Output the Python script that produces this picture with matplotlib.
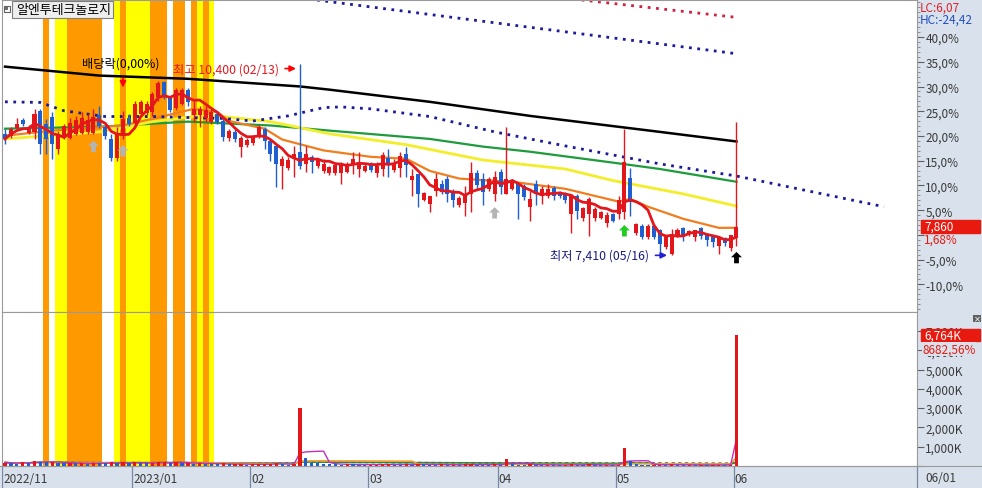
import numpy as np
import pandas as pd
import matplotlib.pyplot as plt
from matplotlib.patches import Rectangle
from matplotlib.path import Path

plt.rcParams['font.family'] = ['Noto Sans CJK KR', 'DejaVu Sans']

# -----------------------------------
# Data: daily candles 2022-11-30 .. 2023-06-01 (index 0..124)
# -----------------------------------
opens = [9310, 9280, 9400, 9520, 9320, 9340, 9660, 9470, 9580, 9080,
         9280, 9250, 9310, 9330, 9340, 9330, 9600, 9420, 9230, 8930,
         9300, 9560, 9480, 9620, 9640, 9650, 9880, 10120, 9870, 9720,
         9780, 10000, 9600, 9600, 9550, 9500, 9620, 9510, 9250, 9340,
         9100, 9140, 9170, 9270, 9390, 9190, 9120, 8800, 8770, 8920,
         9030, 8840, 8950, 8800, 8730, 8690, 8700, 8700, 8720, 8820,
         8760, 8730, 8830, 8700, 8760, 8930, 8750, 8780, 8990, 8580,
         8680, 8270, 8220, 8420, 8530, 8600, 8400, 8200, 8230, 8370,
         8700, 8600, 8450, 8370, 8710, 8370, 8450, 8530, 8490, 8170,
         8530, 8340, 8340, 8460, 8390, 8350, 8060, 8340, 8000, 8050,
         8000, 8000, 7910, 8050, 8060, 8090, 8620, 7760, 7870, 7700,
         7870, 7800, 7540, 7430, 7700, 7830, 7740, 7700, 7830, 7740,
         7700, 7560, 7680, 7530, 7700]
highs = [9390, 9420, 9550, 9560, 9440, 9700, 9700, 9540, 9650, 9350,
         9470, 9550, 9590, 9650, 9620, 9700, 9750, 9450, 9300, 9420,
         9660, 9620, 9830, 9840, 9820, 9970, 10130, 10140, 9890, 10020,
         10030, 10030, 9820, 9750, 9740, 9700, 9650, 9550, 9390, 9380,
         9280, 9250, 9290, 9450, 9420, 9230, 9130, 8970, 8950, 9120,
         10400, 9120, 8980, 8920, 8920, 8810, 8840, 8870, 8870, 9030,
         9030, 8840, 8870, 8870, 9030, 9080, 8920, 9030, 9100, 8760,
         8680, 8400, 8340, 8700, 8580, 8650, 8450, 8330, 8500, 8870,
         8740, 8690, 8640, 8730, 8760, 9420, 8600, 8560, 8520, 8420,
         8580, 8500, 8530, 8500, 8420, 8400, 8340, 8370, 8170, 8320,
         8170, 8110, 8090, 8070, 8340, 9390, 8780, 7920, 7900, 7900,
         7900, 7820, 7710, 7820, 7830, 7860, 7800, 7810, 7860, 7760,
         7710, 7690, 7690, 7720, 9500]
lows = [9150, 9250, 9370, 9430, 9300, 9230, 9000, 9000, 8920, 8990,
        9230, 9230, 9290, 9300, 9310, 9300, 9400, 9230, 8890, 8890,
        9230, 9430, 9450, 9590, 9600, 9590, 9830, 9850, 9650, 9680,
        9760, 9750, 9500, 9420, 9500, 9470, 9470, 9200, 9200, 9180,
        8950, 9100, 9140, 9250, 9080, 8890, 8480, 8450, 8740, 8640,
        8760, 8720, 8690, 8780, 8690, 8670, 8670, 8530, 8700, 8680,
        8640, 8710, 8720, 8640, 8650, 8640, 8720, 8640, 8640, 8340,
        8170, 8260, 8090, 8330, 8370, 8250, 8170, 8170, 8020, 8090,
        8450, 8200, 8420, 8260, 8370, 8370, 8430, 7980, 8270, 7950,
        8200, 8220, 8300, 8270, 8300, 8230, 7760, 7980, 7940, 7720,
        7950, 7980, 7850, 7930, 7980, 7980, 8020, 7730, 7670, 7670,
        7670, 7460, 7510, 7410, 7690, 7640, 7720, 7640, 7670, 7560,
        7540, 7430, 7560, 7480, 7560]
closes = [9230, 9380, 9470, 9470, 9420, 9620, 9150, 9230, 9150, 9310,
          9430, 9480, 9520, 9560, 9520, 9580, 9430, 9280, 8930, 9300,
          9540, 9460, 9780, 9800, 9780, 9940, 10100, 9900, 9680, 10000,
          9990, 9800, 9700, 9700, 9680, 9650, 9490, 9260, 9360, 9230,
          9250, 9220, 9260, 9420, 9200, 9000, 8840, 8920, 8900, 9000,
          8800, 9000, 8870, 8900, 8840, 8790, 8820, 8820, 8810, 8920,
          8870, 8800, 8750, 8800, 8980, 8830, 8860, 8960, 8830, 8650,
          8370, 8380, 8330, 8610, 8400, 8370, 8280, 8310, 8370, 8690,
          8510, 8400, 8600, 8640, 8480, 8610, 8570, 8370, 8320, 8290,
          8370, 8440, 8450, 8340, 8330, 8280, 8340, 8100, 8150, 8290,
          8140, 8080, 8040, 7950, 8280, 8870, 8240, 7900, 7700, 7870,
          7700, 7590, 7700, 7750, 7810, 7720, 7790, 7800, 7720, 7650,
          7620, 7680, 7600, 7730, 7860]
# volume in thousand shares
volumes = [180, 150, 120, 210, 160, 250, 230, 190, 210, 170, 140, 160, 130, 150, 120, 180, 140, 130, 200, 150, 220, 130,
           190, 170, 140, 160, 210, 230, 150, 190, 160, 170, 120, 140, 110, 100, 90, 130, 80, 90, 110, 70,
           80, 90, 100, 120, 150, 90, 70, 80, 2990, 420, 180, 140, 110, 90, 80, 70, 90, 80, 70, 60,
           60, 70, 80, 90, 70, 60, 80, 70, 110, 90, 70, 60, 80, 60, 70, 50, 80, 120, 70, 60, 50, 80,
           70, 360, 90, 70, 60, 80, 60, 50, 60, 50, 40, 50, 90, 70, 60, 80, 50, 40, 50, 40,
           60, 910, 240, 90, 60, 50, 60, 70, 60, 90, 50, 40, 50, 40, 60, 40, 50, 60, 40, 77, 6764]

# moving averages (bar index, price)
ma20_x = [0, 8, 20, 25, 32, 36, 38, 44, 47, 54, 62, 68, 72, 77, 82, 86, 95, 104, 106, 109, 115, 121, 124]
ma20_v = [9280, 9360, 9440, 9545, 9700, 9650, 9510, 9390, 9220, 9050, 8950, 8920, 8730, 8610, 8580,
          8560, 8450, 8250, 8290, 8170, 7980, 7840, 7840]
ma60_x = [0, 16, 25, 32, 37, 45, 55, 68, 81, 95, 103, 115, 124]
ma60_v = [9230, 9340, 9500, 9580, 9580, 9500, 9310, 9140, 8900, 8760, 8580, 8370, 8180]
ma120_x = [0, 16, 31, 45, 55, 72, 81, 89, 103, 111, 124]
ma120_v = [9390, 9420, 9500, 9440, 9360, 9230, 9110, 9030, 8860, 8760, 8560]
ma240_x = [0, 16, 31, 50, 55, 72, 89, 111, 124]
ma240_v = [10360, 10220, 10170, 10050, 10000, 9810, 9590, 9340, 9190]
env_lo_x = [0, 6, 10, 17, 25, 37, 42, 48, 54, 57, 62, 72, 83, 95, 111, 124, 149]
env_lo_v = [9810, 9800, 9670, 9580, 9580, 9550, 9510, 9590, 9720, 9730, 9700, 9580, 9340, 9120, 8840, 8650, 8170]
env_hi_x = [45, 85, 124]
env_hi_v = [11494, 11022, 10562]
env_top_x = [90, 124]
env_top_v = [11483, 11130]

# highlighted periods (first bar, last bar)
orange_spans = [(7, 7), (11, 16), (20, 20), (25, 27), (29, 30), (32, 32), (34, 34)]
yellow_spans = [(9, 10), (19, 19), (21, 24), (33, 33), (35, 35)]

month_labels = ['2022/11', '2023/01', '02', '03', '04', '05', '06']
month_start = [0, 22, 42, 62, 84, 104, 124]

signal_bars = [15, 20, 83, 105, 124]
signal_colors = ['#b4b4b4', '#b4b4b4', '#b4b4b4', '#22cc22', '#000000']

# -----------------------------------
# Layout helpers
# -----------------------------------
W, H = 982, 489
STRIP = '#d9e1ec'
EDGE = '#9a9a9a'
RED = '#e3161b'
BLUE = '#1f5fcf'
LBL = '#3a3a3a'
FS = 8.5


def box(x0, y0, x1, y1):
    return [x0 / W, 1 - y1 / H, (x1 - x0) / W, (y1 - y0) / H]


fig = plt.figure(figsize=(W / 100, H / 100), dpi=100)
fig.patch.set_facecolor('white')

bg = fig.add_axes(box(0, 0, W, H), zorder=-10)
bg.set_xlim(0, W)
bg.set_ylim(H, 0)
bg.axis('off')
bg.add_patch(Rectangle((917, 0), 65, 489, color=STRIP))
bg.add_patch(Rectangle((0, 467), 917, 22, color=STRIP))

x = np.arange(len(closes))
o = np.array(opens)
c = np.array(closes)
cols = np.where(c >= o, RED, BLUE)
v = np.array(volumes)
vcols = np.where(np.r_[True, v[1:] >= v[:-1]], RED, BLUE)
XL = (-0.51, 154.6)

# -----------------------------------
# Price panel
# -----------------------------------
ax = fig.add_axes(box(2, 1, 917, 313))
base = closes[-2]
PCT_LO, PCT_HI = -15.6, 47.5
ax.set_xlim(*XL)
ax.set_ylim(base * (1 + PCT_LO / 100), base * (1 + PCT_HI / 100))

for a, b in orange_spans:
    ax.axvspan(a - 0.5, b + 0.5, color='#ff9900', lw=0, zorder=0)
for a, b in yellow_spans:
    ax.axvspan(a - 0.5, b + 0.5, color='#ffff00', lw=0, zorder=0)

ax.plot(ma240_x, ma240_v, color='black', lw=1.8, zorder=2)
ax.plot(ma120_x, ma120_v, color='#1e9b3c', lw=1.6, zorder=2)
ax.plot(ma60_x, ma60_v, color='#f2ee2a', lw=2.0, zorder=2)
ax.plot(ma20_x, ma20_v, color='#f07d1e', lw=1.6, zorder=2)
ax.plot(env_lo_x, env_lo_v, color='#1a1a9a', lw=2, ls=(0, (1, 2)), zorder=2)
ax.plot(env_hi_x, env_hi_v, color='#1a1a9a', lw=2, ls=(0, (1, 2)), zorder=2)
ax.plot(env_top_x, env_top_v, color='#d02040', lw=2, ls=(0, (1, 2)), zorder=2)

ax.vlines(x, lows, highs, color=cols, lw=1, zorder=3)
body = np.maximum(np.abs(c - o), 15)
ax.bar(x, body, bottom=np.minimum(o, c), width=0.68, color=cols, lw=0, zorder=3.1)

ma5 = pd.Series(closes).rolling(5, min_periods=1).mean()
ax.plot(x, ma5, color=RED, lw=2, zorder=4)

# signal arrows
arrow = Path([(0, 1), (-0.9, 0.1), (-0.4, 0.1), (-0.4, -0.9), (0.4, -0.9), (0.4, 0.1), (0.9, 0.1), (0, 1)],
             [Path.MOVETO] + [Path.LINETO] * 6 + [Path.CLOSEPOLY])
ax.scatter(signal_bars, [lows[i] - 190 for i in signal_bars], marker=arrow, s=75,
           c=signal_colors, lw=0, zorder=5)

# annotations
ihi = int(np.argmax(highs))
ilo = int(np.argmin(lows))
ax.text(19.6, 10420, '배당락(0,00%)', ha='center', va='center', fontsize=FS + 0.3, color='black', zorder=6)
ax.annotate('', xy=(20, 9990), xytext=(20, 10220),
            arrowprops=dict(arrowstyle='-|>', color='red', lw=1.2, mutation_scale=9), zorder=6)
ax.text(ihi - 3.6, highs[ihi] - 70, f'최고 {highs[ihi]:,} (02/13)', ha='right', va='center',
        fontsize=FS + 0.3, color=RED, zorder=6)
ax.annotate('', xy=(ihi - 0.2, highs[ihi] - 70), xytext=(ihi - 3.0, highs[ihi] - 70),
            arrowprops=dict(arrowstyle='-|>', color='red', lw=1.2, mutation_scale=9), zorder=6)
ax.text(ilo - 3.8, lows[ilo], f'최저 {lows[ilo]:,} (05/16)', ha='right', va='center',
        fontsize=FS + 0.3, color='#1a1a80', zorder=6)
ax.annotate('', xy=(ilo - 0.3, lows[ilo]), xytext=(ilo - 3.2, lows[ilo]),
            arrowprops=dict(arrowstyle='-|>', color='#2020d0', lw=1.2, mutation_scale=9), zorder=6)

# right percentage axis
ax.yaxis.tick_right()
pcts = [-10, -5, 0, 5, 10, 15, 20, 25, 30, 35, 40]
ax.set_yticks([base * (1 + p / 100) for p in pcts],
              ['' if p == 0 else f'{p:.1f}%'.replace('.', ',') for p in pcts])
ax.set_yticks([base * (1 + p / 100) for p in range(-15, 48)], minor=True)
ax.tick_params(axis='y', which='major', length=5, width=0.8, color='#606060',
               labelsize=FS, labelcolor=LBL, pad=1)
ax.tick_params(axis='y', which='minor', length=2.5, width=0.6, color='#808080')
ax.set_xticks([])
for s in ax.spines.values():
    s.set_color(EDGE)

# last price box
yr = ax.get_ylim()
bh = (yr[1] - yr[0]) * 13 / 312
ax.add_patch(Rectangle((1.0044, closes[-1] - bh / 2), 0.0645, bh, transform=ax.get_yaxis_transform(),
                       color='#e8190f', clip_on=False, zorder=7))
ax.text(1.008, closes[-1], f'{closes[-1]:,}', transform=ax.get_yaxis_transform(),
        color='white', fontsize=FS, va='center', ha='left', zorder=8, clip_on=False)
chg = (closes[-1] / base - 1) * 100
ax.text(1.008, closes[-1] - bh * 1.0, f'{chg:.2f}%'.replace('.', ','), transform=ax.get_yaxis_transform(),
        color='#e8190f', fontsize=FS, va='center', ha='left', zorder=8, clip_on=False)

# -----------------------------------
# Volume panel
# -----------------------------------
av = fig.add_axes(box(2, 313, 917, 467))
av.set_xlim(*XL)
av.set_ylim(0, 7980)
for a, b in orange_spans:
    av.axvspan(a - 0.5, b + 0.5, color='#ff9900', lw=0, zorder=0)
for a, b in yellow_spans:
    av.axvspan(a - 0.5, b + 0.5, color='#ffff00', lw=0, zorder=0)
av.bar(x, volumes, width=0.55, color=vcols, lw=0, zorder=3)
vs = pd.Series(volumes)
av.plot(x, vs.rolling(120, min_periods=1).mean(), color='#203070', lw=1.2, ls=(0, (2, 2)), zorder=2)
av.plot(x, vs.rolling(60, min_periods=1).mean(), color='#2a8a40', lw=1.2, zorder=2)
av.plot(x, vs.rolling(20, min_periods=1).mean(), color='#f0a030', lw=1.2, zorder=2)
av.plot(x, vs.rolling(5, min_periods=1).mean(), color='#c030c0', lw=1, zorder=2.5)
av.yaxis.tick_right()
vt = list(range(0, 8000, 1000))
av.set_yticks(vt, ['' if t == 0 else f'{t:,}K' for t in vt])
av.tick_params(axis='y', length=5, width=0.8, color='#606060', labelsize=FS, labelcolor=LBL, pad=1)
av.set_xticks([])
for s in av.spines.values():
    s.set_color(EDGE)
vr = av.get_ylim()
vh = (vr[1] - vr[0]) * 12 / 154
av.add_patch(Rectangle((1.0044, volumes[-1] - vh / 2), 0.0645, vh, transform=av.get_yaxis_transform(),
                       color='#e8190f', clip_on=False, zorder=7))
av.text(1.008, volumes[-1], f'{volumes[-1]:,}K', transform=av.get_yaxis_transform(),
        color='white', fontsize=FS, va='center', ha='left', zorder=8, clip_on=False)
av.text(1.006, volumes[-1] - vh * 1.1, '8682,56%', transform=av.get_yaxis_transform(),
        color='#e8190f', fontsize=FS, va='center', ha='left', zorder=8, clip_on=False,
        bbox=dict(boxstyle='square,pad=0.05', fc=STRIP, ec='none'))

# -----------------------------------
# Date strip
# -----------------------------------
ad = fig.add_axes(box(2, 467, 917, 489))
ad.set_xlim(*XL)
ad.set_ylim(0, 1)
ad.axis('off')
for s, lab in zip(month_start, month_labels):
    ad.axvline(s - 0.5, color='#7888a0', lw=0.9)
    ad.text(s - 0.3, 0.45, lab, fontsize=FS, color=LBL, va='center', ha='left')

# -----------------------------------
# Overlay decorations (pixel coordinates)
# -----------------------------------
lc = (closes[-1] / min(lows) - 1) * 100
hc = (closes[-1] / max(highs) - 1) * 100
top = fig.add_axes(box(0, 0, W, H), zorder=5)
top.set_xlim(0, W)
top.set_ylim(H, 0)
top.axis('off')
top.plot([917, 917], [467, 489], color='#7888a0', lw=0.9)
top.plot([0, 982], [467, 467], color=EDGE, lw=0.8)
top.text(925, 478.5, '06/01', fontsize=FS, color=LBL, va='center', ha='left')
top.text(920, 8, f'LC:{lc:.2f}'.replace('.', ','), fontsize=FS, color='#e0202a', va='center', ha='left')
top.text(920, 20, f'HC:{hc:.2f}'.replace('.', ','), fontsize=FS, color='#2050c0', va='center', ha='left')
top.add_patch(Rectangle((12, 2), 101, 17, fc='#eeeeee', ec='#7f7f7f', lw=0.8))
top.add_patch(Rectangle((4, 6.5), 6, 6, fc='white', ec='#606060', lw=0.8))
top.add_patch(Rectangle((5.5, 8), 3, 3, fc='#707070', lw=0))
top.text(16, 10.5, '알엔투테크놀로지', fontsize=9.3, color='black', va='center', ha='left')
top.add_patch(Rectangle((973, 316), 8, 7, fc='#606060', lw=0))
top.text(977, 319.5, '×', fontsize=6, color='white', va='center', ha='center', family='DejaVu Sans')

fig.savefig('out.png', dpi=100)
